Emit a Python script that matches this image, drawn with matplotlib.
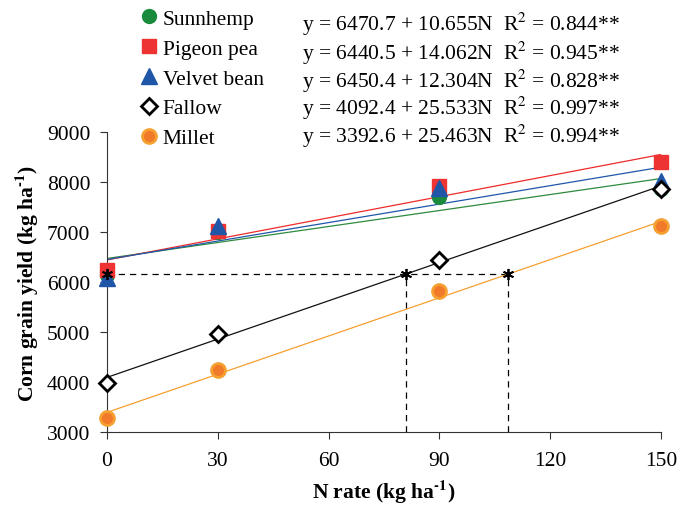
import matplotlib
matplotlib.use('Agg')
import matplotlib.pyplot as plt
import numpy as np

plt.rcParams['font.family'] = 'Liberation Serif'
plt.rcParams['mathtext.fontset'] = 'stix'

n_rate = [0, 30, 90, 150]
sunnhemp = [6150, 7000, 7700, 7860]
pigeon_pea = [6240, 7030, 7930, 8410]
velvet_bean = [6080, 7120, 7880, 8030]
fallow = [3980, 4960, 6450, 7860]
millet = [3280, 4240, 5830, 7130]

names = ['Sunnhemp', 'Pigeon pea', 'Velvet bean', 'Fallow', 'Millet']
intercepts = [6470.7, 6440.5, 6450.4, 4092.4, 3392.6]
slopes = [10.655, 14.062, 12.304, 25.533, 25.463]
r2 = ['0.844', '0.945', '0.828', '0.997', '0.994']

target_yield = 6160
fs = 15.5

fig = plt.figure(figsize=(6.81, 5.06), dpi=100)
ax = fig.add_axes([107/681, 1 - 433/506, 554/681, 300/506])

# regression lines
line_colors = ['#2e8b3e', '#ee2a2a', '#1f56a8', '#111111', '#f5a030']
nn = np.array([0, 150])
for b0, b1, c in zip(intercepts, slopes, line_colors):
    ax.plot(nn, b0 + b1 * nn, color=c, lw=0.9, zorder=2)

# dashed guides where fallow / millet reach the target yield
n_fallow = (target_yield - intercepts[3]) / slopes[3]
n_millet = (target_yield - intercepts[4]) / slopes[4]
ax.plot([0, n_millet], [target_yield, target_yield], ls=(0, (5, 4)), color='black', lw=0.9, zorder=1)
for nx in [n_fallow, n_millet]:
    ax.plot([nx, nx], [3000, target_yield], ls=(0, (5, 4)), color='black', lw=0.9, zorder=1)
ax.plot([0, n_fallow, n_millet], [target_yield] * 3, ls='none', marker=(6, 2, 0),
        ms=8, color='black', mew=1.3, zorder=6, clip_on=False)

# points
h1, = ax.plot(n_rate, sunnhemp, 'o', color='#1a8a3c', ms=10, ls='none', zorder=3, clip_on=False)
h2, = ax.plot(n_rate, pigeon_pea, 's', color='#ee3333', ms=10, ls='none', zorder=4, clip_on=False)
h3, = ax.plot(n_rate, velvet_bean, '^', color='#1f56a8', ms=11, ls='none', zorder=5, clip_on=False)
h4, = ax.plot(n_rate, fallow, 'D', mfc='white', mec='black', mew=2, ms=8, ls='none', zorder=5, clip_on=False)
h5, = ax.plot(n_rate, millet, 'o', color='#f07a2a', mec='#f5a030', mew=2, ms=10, ls='none', zorder=5, clip_on=False)

ax.set_xlim(0, 150)
ax.set_ylim(3000, 9000)
ax.set_xticks([0, 30, 60, 90, 120, 150])
ax.set_yticks(range(3000, 9001, 1000))
ax.spines['top'].set_visible(False)
ax.spines['right'].set_visible(False)
ax.spines['left'].set_color('#333333')
ax.spines['bottom'].set_color('#333333')
ax.tick_params(direction='out', length=5, labelsize=fs, color='#333333')
ax.tick_params(axis='x', pad=8.5)
ax.tick_params(axis='y', pad=7)
unit = 'kg ha$^{\\mathbf{\u2010}\\mathbf{1}}$'
ax.set_xlabel('N rate (' + unit + ')', fontsize=fs, fontweight='bold', labelpad=5)
ax.set_ylabel('Corn grain yield (' + unit + ')', fontsize=fs, fontweight='bold', labelpad=4)

fig.legend([h1, h2, h3, h4, h5], names, loc='upper left',
           bbox_to_anchor=(140/681, 1 - 9.5/506), frameon=False, fontsize=fs,
           handlelength=0.8, handletextpad=0.25, labelspacing=0.46,
           borderpad=0, borderaxespad=0)

rows_y = [24, 53, 81, 108, 136]
for b0, b1, r, yy in zip(intercepts, slopes, r2, rows_y):
    fig.text(302/681, 1 - yy/506, 'y = %.1f + %.3fN  R$^2$ = %s**' % (b0, b1, r),
             fontsize=fs, va='center', ha='left')

fig.savefig('out.png', dpi=100)
